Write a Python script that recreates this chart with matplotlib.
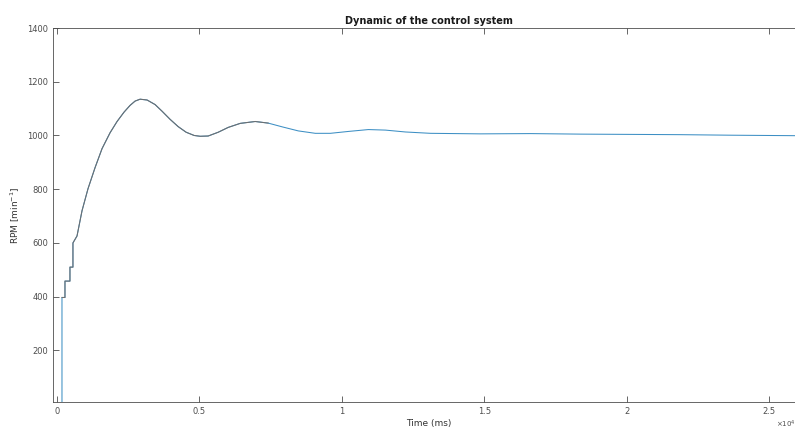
import matplotlib
matplotlib.use("Agg")
import matplotlib.pyplot as plt
from matplotlib.ticker import FuncFormatter

# --------- speed response (time in ms, RPM)
time_ms = [0, 175, 175, 280, 280, 455, 455, 560, 560, 703, 879, 1089, 1335, 1581, 1862,
           2108, 2354, 2565, 2741, 2916, 3162, 3443, 3690, 3970, 4252, 4533, 4814,
           5025, 5306, 5657, 6008, 6430, 6957, 7414, 7906, 8468, 9065, 9592, 10225,
           10928, 11525, 12228, 13106, 14863, 16620, 18377, 20134, 21890, 23647, 26200]
rpm = [0, 0, 397, 397, 458, 458, 510, 510, 600, 626, 720, 802, 880, 951, 1010,
       1052, 1087, 1112, 1128, 1135, 1132, 1115, 1090, 1060, 1033, 1012, 1000,
       997, 998, 1012, 1030, 1045, 1052, 1046, 1032, 1017, 1008, 1008, 1015,
       1022, 1020, 1013, 1008, 1006, 1007, 1005, 1004, 1003, 1001, 999]

# dark overlay covers the start-up part only
n_dark = 34

plt.figure(figsize=(7.95, 4.32), dpi=100)
ax = plt.axes([53/795, 30/432, 752/795, 374/432])

plt.plot(time_ms, rpm, color="#3d8fc4", linewidth=0.75)
plt.plot(time_ms[2:n_dark], rpm[2:n_dark], color="#6e6e6e", linewidth=0.75)

plt.xlim(-140, 26250)
plt.ylim(8, 1400)
plt.xticks([0, 5000, 10000, 15000, 20000, 25000])
plt.yticks([200, 400, 600, 800, 1000, 1200, 1400])
ax.xaxis.set_major_formatter(FuncFormatter(lambda v, p: "%g" % (v / 1e4)))

plt.tick_params(axis="both", direction="in", top=True, right=False, labelsize=6,
                colors="#4d4d4d", length=4, width=0.6)
for side in ["left", "bottom", "top"]:
    ax.spines[side].set_color("#4d4d4d")
    ax.spines[side].set_linewidth(0.6)
ax.spines["right"].set_visible(False)

plt.title("Dynamic of the control system", fontsize=7, fontweight="bold", color="#1a1a1a", pad=3)
plt.xlabel("Time (ms)", fontsize=6.5, color="#333333", labelpad=2)
plt.ylabel("RPM [min$^{-1}$]", fontsize=6.5, color="#333333", labelpad=4)
plt.figtext(776/795, 1 - 428/432, r"$\times10^{4}$", fontsize=5, color="#4d4d4d")

plt.savefig("out.png", dpi=100)
